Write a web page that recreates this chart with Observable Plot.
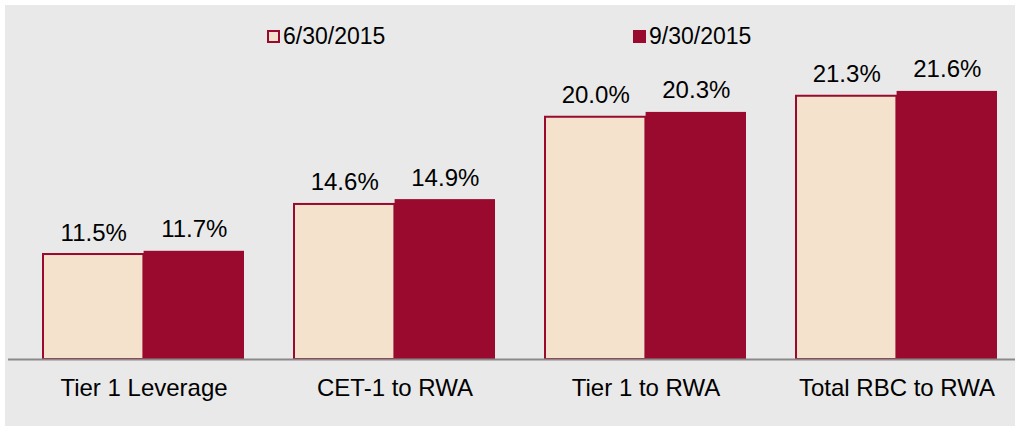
<!DOCTYPE html>
<html>
<head>
<meta charset="utf-8">
<script src="https://cdn.jsdelivr.net/npm/d3@7"></script>
<script src="https://cdn.jsdelivr.net/npm/@observablehq/plot@0.6"></script>
<style>
  html, body { margin: 0; padding: 0; background: #ffffff; }
  #wrap { position: relative; margin-left: 5px; margin-top: 5px; width: 1010px; height: 421px; background: #e9e9e9; overflow: hidden; }
  #legend { position: absolute; top: 0; left: 0; width: 1010px; height: 50px; font-family: "Liberation Sans", Arial, sans-serif; font-size: 23px; color: #000; }
  .item { position: absolute; top: 18px; display: flex; align-items: center; line-height: 26px; }
  .sw { width: 13px; height: 13px; box-sizing: border-box; margin-right: 3px; }
  #chart { position: absolute; top: 0; left: 0; }
</style>
</head>
<body>
<div id="wrap">
  <div id="chart"></div>
  <div id="legend"></div>
</div>
<script>
const categories = ["Tier 1 Leverage", "CET-1 to RWA", "Tier 1 to RWA", "Total RBC to RWA"];
const seriesNames = ["6/30/2015", "9/30/2015"];
const jun2015 = [11.5, 14.6, 20.0, 21.3];
const sep2015 = [11.7, 14.9, 20.3, 21.6];
const yDomain = [5, 25];

const darkRed = "#990a2e";
const lightFill = "#f5e2cd";

const dataA = categories.map((c, i) => ({category: c, value: jun2015[i]}));
const dataB = categories.map((c, i) => ({category: c, value: sep2015[i]}));

const W = 1010, H = 421;
const mL = 3, mR = 0;
const padIn = 0.2, padOut = 0.102;
const step = (W - mL - mR) / (categories.length - padIn + 2 * padOut);
const half = step * (1 - padIn) / 2;

const font = "Liberation Sans, Arial, sans-serif";

const chart = Plot.plot({
  width: W,
  height: H,
  marginLeft: mL,
  marginRight: mR,
  marginTop: 31,
  marginBottom: 67,
  style: {background: "transparent", fontFamily: font, fontSize: "24px", color: "#000"},
  x: {domain: categories, paddingInner: padIn, paddingOuter: padOut, align: 0.66, label: null},
  y: {domain: yDomain, axis: null},
  marks: [
    Plot.barY(dataA, {x: "category", y1: yDomain[0], y2: "value", fill: lightFill, stroke: darkRed, strokeWidth: 2, insetRight: half}),
    Plot.barY(dataB, {x: "category", y1: yDomain[0], y2: "value", fill: darkRed, insetLeft: half}),
    Plot.text(dataA, {x: "category", y: "value", text: d => d.value.toFixed(1) + "%", dx: -half / 2, dy: -14, lineAnchor: "bottom", fontSize: 24, fill: "#000"}),
    Plot.text(dataB, {x: "category", y: "value", text: d => d.value.toFixed(1) + "%", dx: half / 2, dy: -14, lineAnchor: "bottom", fontSize: 24, fill: "#000"}),
    Plot.ruleY([yDomain[0]], {stroke: "#8a8a8a", strokeWidth: 2}),
    Plot.axisX({tickSize: 0, tickPadding: 19, fontSize: 24, label: null, fill: "#000"})
  ]
});
document.getElementById("chart").appendChild(chart);

const legend = document.getElementById("legend");
const legendItems = [
  {name: seriesNames[0], left: 262, fill: lightFill, border: "2px solid " + darkRed},
  {name: seriesNames[1], left: 628, fill: darkRed, border: "none"}
];
for (const it of legendItems) {
  const d = document.createElement("div");
  d.className = "item";
  d.style.left = it.left + "px";
  const sw = document.createElement("span");
  sw.className = "sw";
  sw.style.background = it.fill;
  sw.style.border = it.border;
  const t = document.createElement("span");
  t.textContent = it.name;
  d.appendChild(sw);
  d.appendChild(t);
  legend.appendChild(d);
}
</script>
</body>
</html>
